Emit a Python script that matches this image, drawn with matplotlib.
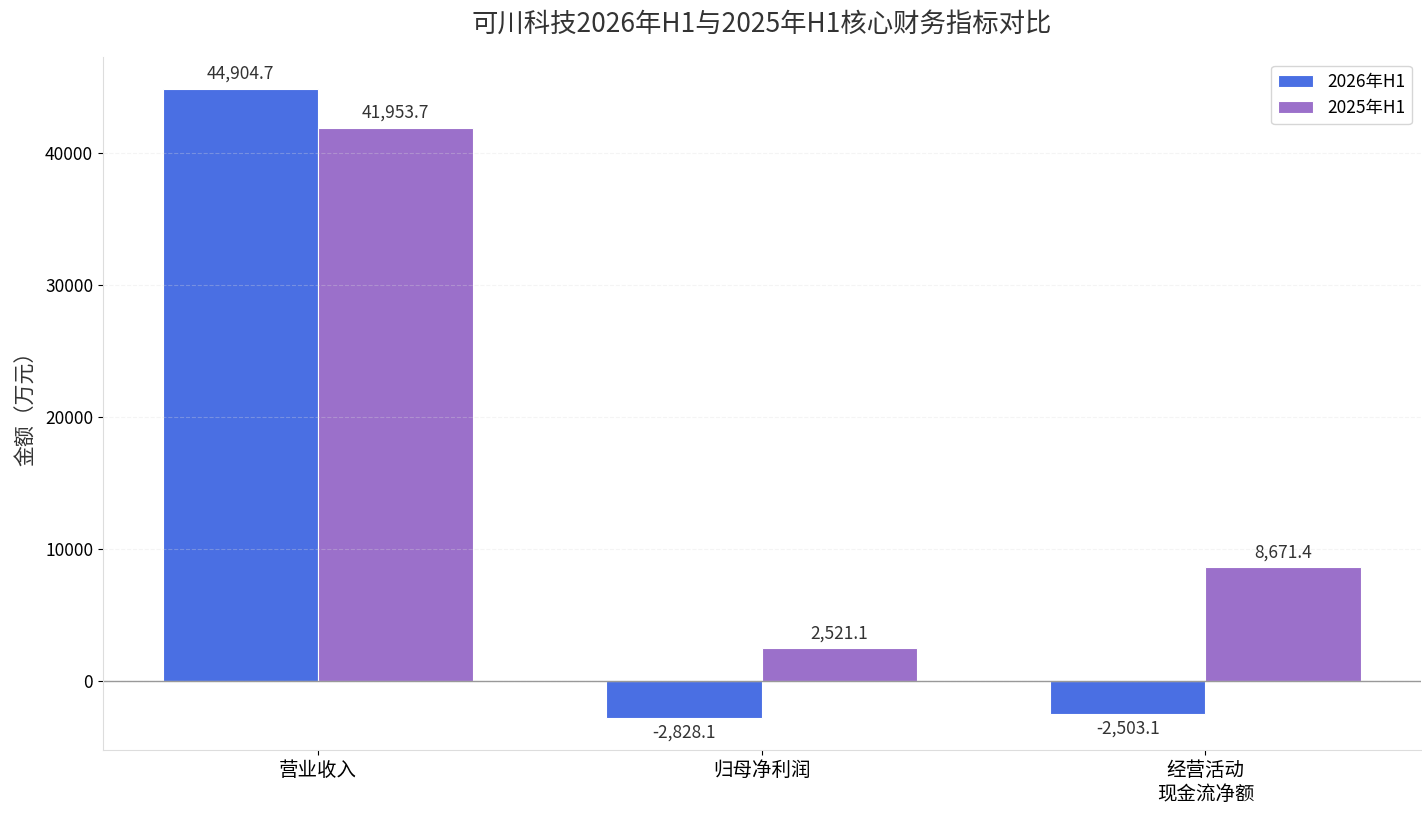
import matplotlib
matplotlib.use('Agg')
import matplotlib.pyplot as plt
import numpy as np

plt.rcParams['font.family'] = ['Noto Sans CJK SC', 'DejaVu Sans']
plt.rcParams['axes.unicode_minus'] = False

categories = ['营业收入', '归母净利润', '经营活动\n现金流净额']
v2026 = [44904.7, -2828.1, -2503.1]
v2025 = [41953.7, 2521.1, 8671.4]
series_names = ['2026年H1', '2025年H1']

fig, ax = plt.subplots(figsize=(14.22, 8.16), dpi=100)
fig.subplots_adjust(left=0.0724, right=0.999, top=0.930, bottom=0.081)

x = np.arange(len(categories))
w = 0.35
b1 = ax.bar(x - w/2, v2026, w, color='#4A6FE3', edgecolor='white', linewidth=0.8, label=series_names[0])
b2 = ax.bar(x + w/2, v2025, w, color='#9B70CA', edgecolor='white', linewidth=0.8, label=series_names[1])

for bars in (b1, b2):
    for r in bars:
        h = r.get_height()
        if h >= 0:
            ax.annotate(f'{h:,.1f}', (r.get_x() + r.get_width()/2, h), xytext=(0, 4),
                        textcoords='offset points', ha='center', va='bottom', fontsize=12.5, color='#333333')
        else:
            ax.annotate(f'{h:,.1f}', (r.get_x() + r.get_width()/2, h), xytext=(0, -4),
                        textcoords='offset points', ha='center', va='top', fontsize=12.5, color='#333333')

ax.axhline(0, color='#999999', linewidth=1)
ax.set_xticks(x)
ax.set_xticklabels(categories, fontsize=14)
ax.tick_params(axis='y', labelsize=12.5)
ax.set_ylabel('金额（万元）', fontsize=15, color='#333333', labelpad=6)
ax.set_title('可川科技2026年H1与2025年H1核心财务指标对比', fontsize=19, color='#333333', pad=18)
ax.grid(axis='y', linestyle='--', alpha=0.3, color='#dddddd')
for s in ('top', 'right'):
    ax.spines[s].set_visible(False)
for s in ('left', 'bottom'):
    ax.spines[s].set_color('#dddddd')
ax.legend(loc='upper right', fontsize=12.5, frameon=True, edgecolor='#cccccc')

plt.savefig('out.png', dpi=100)
